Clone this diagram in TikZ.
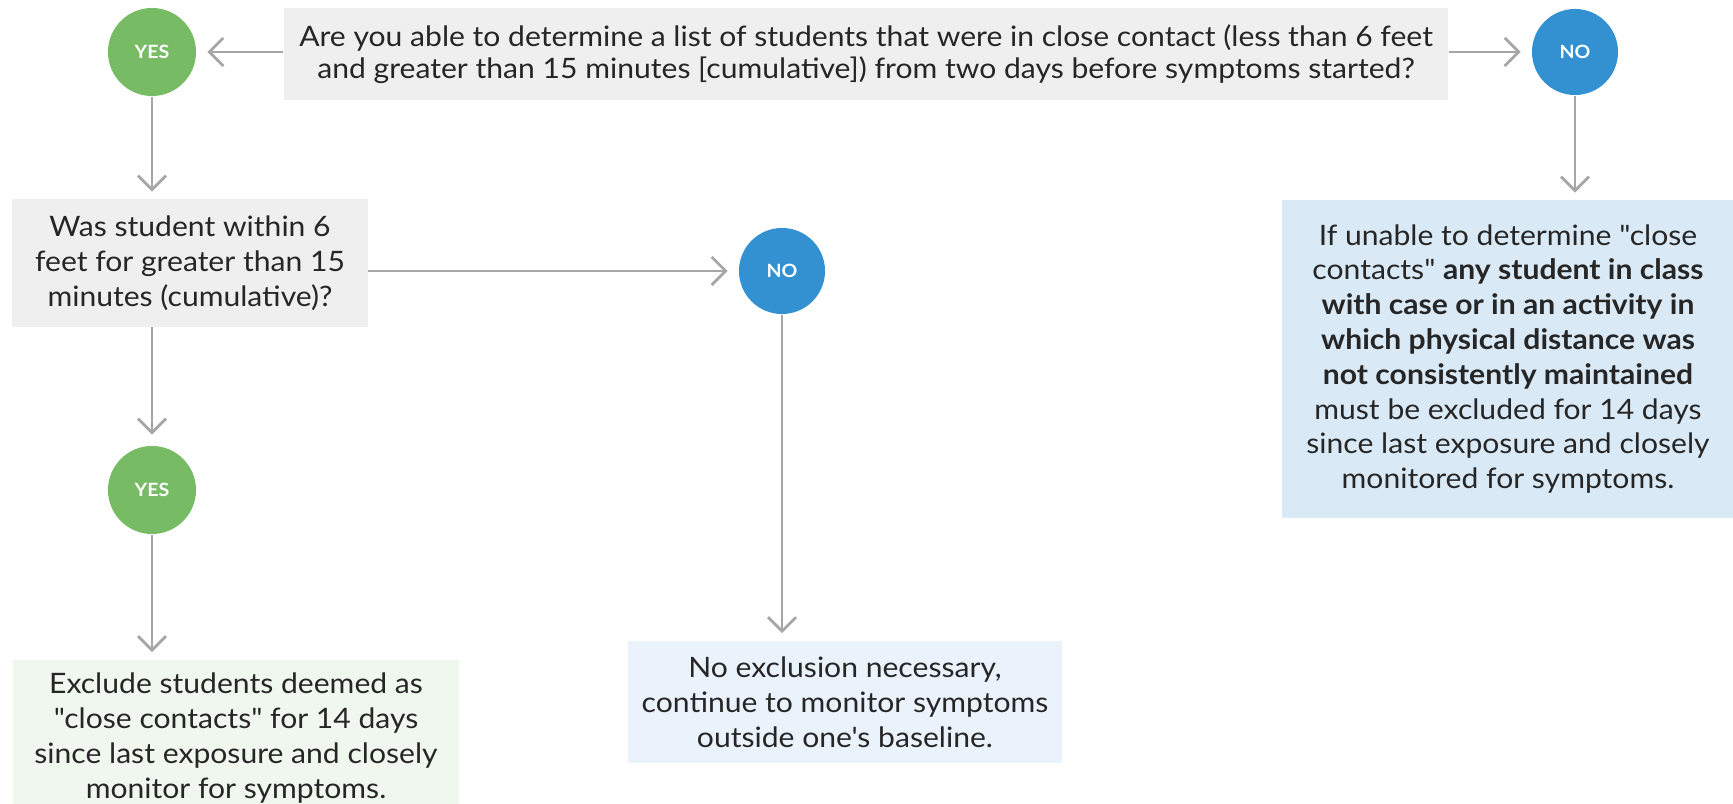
\documentclass[tikz,border=0pt]{standalone}
\usepackage{fontspec}
\setmainfont{Lato}[FakeStretch=1.07, Ligatures=TeXOff]
\usetikzlibrary{arrows.meta}
\definecolor{boxgrey}{HTML}{EFEFEF}
\definecolor{yesgreen}{HTML}{77BC65}
\definecolor{noblue}{HTML}{3391D1}
\definecolor{paleblue}{HTML}{D9E9F5}
\definecolor{paleblue2}{HTML}{EAF2FB}
\definecolor{palegreen}{HTML}{F0F7EE}
\definecolor{arrowgrey}{HTML}{A6A6A6}
\tikzset{txtbox/.style = {inner sep=0pt, align=center, font=\fontsize{8}{9.9}\selectfont, text=black!85}}
\tikzset{yesdot/.style = {circle, fill=yesgreen, minimum size=0.88cm, inner sep=0pt, text=white, font=\fontsize{5.2}{6}\selectfont\bfseries}}
\tikzset{nodot/.style = {circle, fill=noblue, minimum size=0.86cm, inner sep=0pt, text=white, font=\fontsize{5.2}{6}\selectfont\bfseries}}
\tikzset{link/.style = {draw=arrowgrey, line width=0.8pt, -{Straight Barb[length=4pt,width=8pt]}}}

\begin{document}
\begin{tikzpicture}[x=0.01cm, y=-0.01cm]
      \useasboundingbox (0,0) rectangle (1733,804);
      \clip (0,0) rectangle (1733,804);
      % question boxes
      \node [txtbox, fill=boxgrey, minimum width=11.63cm, minimum height=0.91cm, font=\fontsize{8}{9.2}\selectfont] (ask) at (866,54)
            {Are you able to determine a list of students that were in close contact (less than 6 feet\\
             and greater than 15 minutes [cumulative]) from two days before symptoms started?};
      \node [txtbox, fill=boxgrey, minimum width=3.55cm, minimum height=1.27cm] (within) at (190,263)
            {Was student within 6\\ feet for greater than 15\\ minutes (cumulative)?};
      % answers
      \node [yesdot] (yesA) at (152,52) {YES};
      \node [nodot] (noA) at (1575,52) {NO};
      \node [nodot] (noB) at (782,271) {NO};
      \node [yesdot] (yesB) at (152,490) {YES};
      % outcome boxes
      \node [txtbox, fill=palegreen, minimum width=4.46cm, minimum height=1.56cm] (exclude) at (236,738)
            {Exclude students deemed as\\ "close contacts" for 14 days\\ since last exposure and closely\\ monitor for symptoms.};
      \node [txtbox, fill=paleblue2, minimum width=4.33cm, minimum height=1.22cm] (noexcl) at (845,702)
            {No exclusion necessary,\\ continue to monitor symptoms\\ outside one's baseline.};
      \node [txtbox, fill=paleblue, minimum width=4.51cm, minimum height=3.17cm] (unable) at (1508,359)
            {If unable to determine "close\\ contacts" \textbf{any student in class}\\ \textbf{with case or in an activity in}\\
             \textbf{which physical distance was}\\ \textbf{not consistently maintained}\\ must be excluded for 14 days\\
             since last exposure and closely\\ monitored for symptoms.};
      % connectors
      \draw [link, shorten >=3pt] (ask.west |- yesA) -- (yesA);
      \draw [link, shorten >=3pt] (ask.east |- noA) -- (noA);
      \draw [link, shorten >=2pt] (yesA) -- (within.north -| yesA);
      \draw [link, shorten >=3pt] (within.east |- noB) -- (noB);
      \draw [link, shorten >=3pt] (within.south -| yesB) -- (yesB);
      \draw [link, shorten >=2pt] (yesB) -- (exclude.north -| yesB);
      \draw [link, shorten >=2pt] (noB) -- (noexcl.north -| noB);
      \draw [link, shorten >=2pt] (noA) -- (unable.north -| noA);
    \end{tikzpicture}
\end{document}
